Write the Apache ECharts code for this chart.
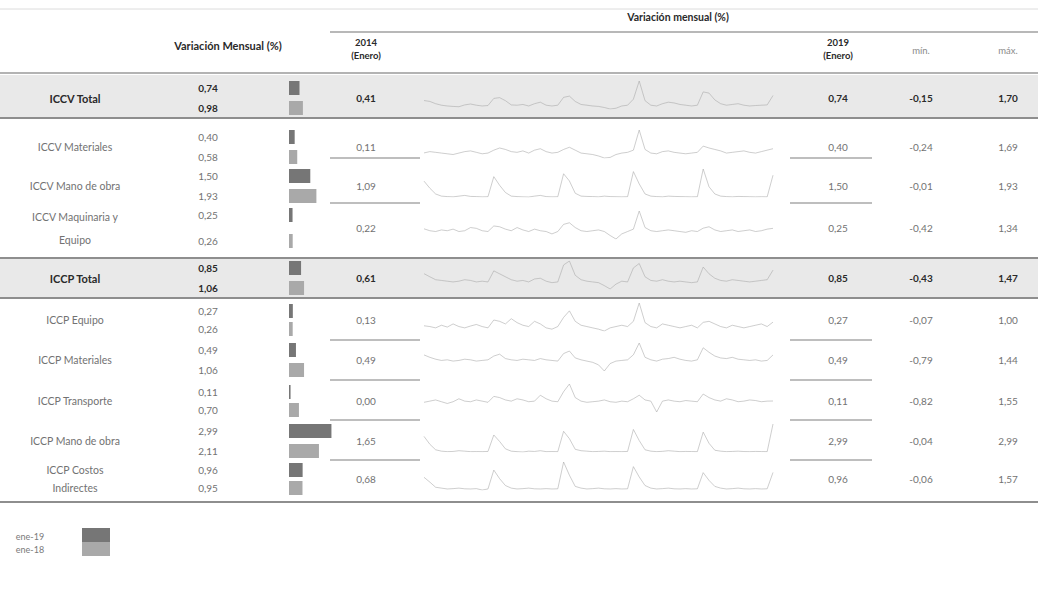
<!DOCTYPE html>
<html><head><meta charset="utf-8">
<script src="https://cdn.jsdelivr.net/npm/echarts@6/dist/echarts.min.js"></script>
<style>html,body{margin:0;padding:0;background:#fff}#c{width:1038px;height:593px}</style>
</head><body><div id="c"></div>
<script>
// ---------------- DATA ----------------
const rowLabels = ['ICCV Total','ICCV Materiales','ICCV Mano de obra','ICCV Maquinaria y\nEquipo','ICCP Total','ICCP Equipo','ICCP Materiales','ICCP Transporte','ICCP Mano de obra','ICCP Costos\nIndirectes'];
const isTotal = [true,false,false,false,true,false,false,false,false,false];
const ene19 = [0.74,0.40,1.50,0.25,0.85,0.27,0.49,0.11,2.99,0.96];
const ene18 = [0.98,0.58,1.93,0.26,1.06,0.26,1.06,0.70,2.11,0.95];
const v2014 = [0.41,0.11,1.09,0.22,0.61,0.13,0.49,0.00,1.65,0.68];
const v2019 = [0.74,0.40,1.50,0.25,0.85,0.27,0.49,0.11,2.99,0.96];
const vMin  = [-0.15,-0.24,-0.01,-0.42,-0.43,-0.07,-0.79,-0.82,-0.04,-0.06];
const vMax  = [1.70,1.69,1.93,1.34,1.47,1.00,1.44,1.55,2.99,1.57];
const legendLabels = ['ene-19','ene-18'];

// monthly variation, Jan 2014 .. Jan 2019 (61 months), estimated from the sparklines
const sICCVTotal = [0.41,0.35,0.20,0.10,0.05,0.02,0.00,0.12,0.18,0.10,0.05,0.08,
 0.55,0.60,0.40,0.12,0.10,0.15,0.05,0.20,0.30,0.10,0.05,0.10,
 0.62,0.70,0.35,0.15,0.10,0.05,0.02,-0.05,-0.15,-0.10,0.05,0.10,
 0.50,1.70,0.40,0.10,0.05,0.20,0.30,0.25,0.15,0.10,0.05,0.10,
 0.98,0.90,0.45,0.20,0.10,0.15,0.20,0.10,0.05,0.08,0.10,0.12,0.74];
const sICCVMat = [0.11,0.20,0.15,0.10,0.05,0.00,0.10,0.20,0.25,0.15,0.05,0.10,
 0.30,0.45,0.35,0.20,0.15,0.25,0.10,0.30,0.40,0.20,0.10,0.15,
 0.35,0.50,0.30,0.10,0.05,0.00,-0.10,-0.24,-0.20,0.00,0.10,0.15,
 0.30,1.69,0.35,0.10,0.05,0.20,0.25,0.15,0.10,0.05,0.10,0.15,
 0.58,0.45,0.35,0.25,0.10,0.15,0.20,0.25,0.15,0.10,0.20,0.30,0.40];
const sICCVMano = [1.09,0.60,0.20,0.05,0.02,0.00,0.05,0.10,0.03,0.02,0.00,0.01,
 1.40,0.80,0.30,0.05,0.02,0.00,-0.01,0.05,0.10,0.02,0.00,0.01,
 1.60,1.10,0.25,0.05,0.03,0.02,0.00,0.05,0.02,0.01,0.00,0.01,
 1.75,0.90,0.20,0.05,0.02,0.00,0.05,0.03,0.02,0.01,0.00,0.01,
 1.93,0.70,0.20,0.05,0.02,0.00,0.03,0.02,0.01,0.00,0.01,0.00,1.50];
const sICCVMaq = [0.22,0.10,0.05,0.15,0.10,0.20,0.05,0.10,0.30,0.25,0.10,0.05,
 0.40,0.35,0.20,0.10,0.30,0.15,0.05,0.20,0.10,0.05,-0.10,0.05,
 0.50,0.60,0.30,0.10,0.05,0.10,0.15,0.05,-0.20,-0.42,-0.10,0.05,
 0.20,1.34,0.30,0.10,0.05,0.10,0.15,0.10,0.05,0.00,0.10,0.05,
 0.26,0.35,0.15,0.05,0.10,0.15,0.05,0.10,0.15,0.05,0.10,0.20,0.25];
const sICCPTotal = [0.61,0.40,0.20,0.15,0.10,0.05,0.10,0.20,0.15,0.05,0.10,0.05,
 0.80,0.60,0.40,0.20,0.10,0.15,0.05,0.25,0.30,0.10,0.00,0.05,
 1.20,1.47,0.50,0.20,0.10,0.05,0.00,-0.20,-0.43,-0.10,0.10,0.05,
 1.00,1.30,0.40,0.15,0.10,0.20,0.10,0.05,0.10,0.05,0.00,0.05,
 1.06,0.60,0.30,0.15,0.10,0.20,0.15,0.10,0.05,0.10,0.15,0.20,0.85];
const sICCPEq = [0.13,0.10,0.05,0.15,0.08,0.20,0.10,0.05,0.12,0.18,0.10,0.05,
 0.35,0.30,0.20,0.40,0.25,0.15,0.10,0.30,0.20,0.05,0.00,0.10,
 0.45,0.70,0.30,0.15,0.10,0.05,0.00,-0.07,0.05,0.10,0.15,0.10,
 0.30,1.00,0.25,0.10,0.05,0.20,0.15,0.10,0.05,0.10,0.15,0.05,
 0.26,0.30,0.20,0.10,0.05,0.15,0.10,0.05,0.10,0.15,0.20,0.10,0.27];
const sICCPMat = [0.49,0.30,0.15,0.05,0.10,0.00,0.05,0.15,0.10,0.00,0.05,0.10,
 0.40,0.55,0.20,0.10,0.05,0.15,0.10,0.05,0.20,0.10,0.05,0.00,
 0.60,0.80,0.25,0.10,0.00,-0.10,-0.30,-0.79,-0.20,0.00,0.05,0.10,
 0.50,1.44,0.30,0.10,0.00,0.15,0.20,0.30,0.15,0.05,0.00,0.10,
 1.06,0.70,0.40,0.25,0.20,0.30,0.15,0.10,0.05,0.10,0.00,0.05,0.49];
const sICCPTrans = [0.00,0.10,0.20,0.05,-0.10,0.05,0.30,0.10,0.05,0.20,0.10,0.00,
 0.50,0.40,0.20,0.10,0.30,0.20,0.05,0.10,0.60,0.30,0.10,0.05,
 0.90,1.55,0.40,0.10,0.00,0.05,0.10,0.20,0.05,0.00,0.10,0.05,
 0.30,0.60,0.20,0.10,-0.82,0.10,0.20,0.10,0.05,0.15,0.10,0.05,
 0.70,0.40,0.20,0.10,0.30,0.20,0.05,0.10,0.20,0.15,0.05,0.10,0.11];
const sICCPMano = [1.65,0.80,0.20,0.05,0.00,0.02,0.10,0.05,0.00,0.01,0.00,0.02,
 1.80,1.10,0.30,0.05,0.00,-0.04,0.05,0.02,0.10,0.00,0.01,0.00,
 2.20,1.40,0.25,0.10,0.05,0.00,0.02,0.05,0.00,0.01,0.00,0.02,
 2.40,1.20,0.20,0.05,0.00,0.03,0.10,0.05,0.00,0.02,0.01,0.00,
 2.11,0.90,0.15,0.05,0.00,0.02,0.05,0.01,0.00,0.02,0.01,0.00,2.99];
const sICCPCostos = [0.68,0.40,0.10,0.05,0.00,0.02,0.05,0.01,0.00,0.02,-0.06,0.00,
 1.10,0.60,0.20,0.05,0.00,0.02,0.05,0.01,0.00,0.02,0.00,0.01,
 1.57,0.80,0.15,0.05,0.00,0.02,0.05,0.01,0.00,0.02,0.00,0.01,
 1.30,0.70,0.20,0.05,0.00,0.02,0.05,0.01,0.00,0.02,0.00,0.01,
 0.95,0.50,0.15,0.05,0.00,0.02,0.05,0.01,0.00,0.02,0.00,0.01,0.96];
const sparkSeries = [sICCVTotal,sICCVMat,sICCVMano,sICCVMaq,sICCPTotal,sICCPEq,sICCPMat,sICCPTrans,sICCPMano,sICCPCostos];

// ---------------- LAYOUT ----------------
const W = 1038;
const centers = [98,147,186,228,278,320,360,401,441,479];
const pairGap = [10,10,10,13,10,9,10,9,10,9];
const labelLH = [13,13,13,23,13,13,13,13,13,18];
const FONT = 'Lato, "Noto Sans", sans-serif';
const cLabel = 75, cVal = 208, barX = 289, barW = 44, c2014 = 366, sparkL = 424, sparkR = 773, c2019 = 838, cMin = 921, cMax = 1008;
const darkBar = '#767676', lightBar = '#a9a9a9';

const months = [];
for (let y = 2014; y <= 2019; y++) for (let m = 1; m <= 12; m++) { if (y === 2019 && m > 1) break; months.push(y + '-' + m); }
const fmt = v => v.toFixed(2).replace('.', ',');

const graphics = [];
function txt(x, y, t, opt) {
  opt = opt || {};
  graphics.push({type:'text', z: 5, style:{x, y, text:t, font:(opt.bold?'bold ':'') + (opt.size||10) + 'px ' + FONT,
    fill: opt.color || (opt.bold ? '#2a2a2a' : '#727272'), align: opt.align || 'center', textAlign: opt.align || 'center',
    verticalAlign:'middle', textVerticalAlign:'middle', lineHeight: opt.lh || 13}});
}
function line(x1, y1, x2, y2, w, c) {
  graphics.push({type:'line', z: 3, shape:{x1, y1, x2, y2}, style:{stroke: c || '#9a9a9a', lineWidth: w || 1}});
}
function rect(x, y, w, h, c) { graphics.push({type:'rect', z: 0, shape:{x, y, width:w, height:h}, style:{fill:c}}); }

// bands for totals
rect(0, 75, W, 43, '#e9e9e9');
rect(0, 259, W, 39, '#e9e9e9');
// header
line(0, 9, W, 9, 1, '#dcdcdc');
line(330, 32, W, 32, 1.5, '#a0a0a0');
line(0, 73, W, 73, 1.5, '#9a9a9a');
txt(678, 17, 'Variación mensual (%)', {bold:true, size:10.5});
txt(228, 45, 'Variación Mensual (%)', {bold:true, size:11});
txt(c2014, 49, '2014\n(Enero)', {bold:true, size:9.5});
txt(c2019, 49, '2019\n(Enero)', {bold:true, size:9.5});
txt(cMin, 50, 'mín.', {size:9.5, color:'#8a8a8a'});
txt(cMax, 50, 'máx.', {size:9.5, color:'#8a8a8a'});
// separators
line(0, 118, W, 118, 2, '#8e8e8e');
line(0, 258, W, 258, 2, '#8e8e8e');
line(0, 298, W, 298, 2, '#8e8e8e');
line(0, 502, W, 502, 2, '#8e8e8e');
[158, 203, 340, 380, 420, 460].forEach(y => { line(330, y, 420, y, 1.5, '#a8a8a8'); line(790, y, 872, y, 1.5, '#a8a8a8'); });

const grids = [], xAxes = [], yAxes = [], series = [];
rowLabels.forEach((lab, i) => {
  const c = centers[i], b = isTotal[i], g = pairGap[i];
  txt(cLabel, c, lab, {bold:b, size: b ? 11 : 10.5, lh: labelLH[i]});
  txt(cVal, c - g, fmt(ene19[i]), {bold:b, size:10});
  txt(cVal, c + g, fmt(ene18[i]), {bold:b, size:10});
  txt(c2014, c, fmt(v2014[i]), {bold:b, size:10});
  txt(c2019, c, fmt(v2019[i]), {bold:b, size:10});
  txt(cMin, c, fmt(vMin[i]), {bold:b, size:10});
  txt(cMax, c, fmt(vMax[i]), {bold:b, size:10});

  // bars
  let gi = grids.length;
  grids.push({left: barX, top: c - 2*g, width: barW, height: 4*g});
  xAxes.push({type:'value', gridIndex: gi, min: 0, max: 3.1, show: false});
  yAxes.push({type:'category', gridIndex: gi, data: legendLabels, inverse: true, show: false});
  series.push({type:'bar', xAxisIndex: gi, yAxisIndex: gi, barWidth: 14, silent: true, animation: false,
    data: [{value: ene19[i], itemStyle:{color: darkBar}}, {value: ene18[i], itemStyle:{color: lightBar}}]});

  // sparkline
  gi = grids.length;
  grids.push({left: sparkL, top: c - 17, width: sparkR - sparkL, height: 28});
  xAxes.push({type:'category', gridIndex: gi, data: months, boundaryGap: false, show: false});
  yAxes.push({type:'value', gridIndex: gi, min: vMin[i], max: vMax[i], show: false});
  series.push({type:'line', xAxisIndex: gi, yAxisIndex: gi, data: sparkSeries[i], showSymbol: false, silent: true, animation: false,
    lineStyle:{color:'#a6a6a6', width: 1, opacity: 0.55}});
});

// legend
txt(30, 536, legendLabels[0], {size:9, color:'#7a7a7a'});
txt(30, 549, legendLabels[1], {size:9, color:'#7a7a7a'});
rect(82, 528, 28, 14, darkBar);
rect(82, 542, 28, 14, lightBar);

const chart = echarts.init(document.getElementById('c'), null, {renderer:'svg'});
chart.setOption({
  animation: false,
  grid: grids, xAxis: xAxes, yAxis: yAxes, series,
  graphic: {elements: graphics}
});
</script></body></html>
